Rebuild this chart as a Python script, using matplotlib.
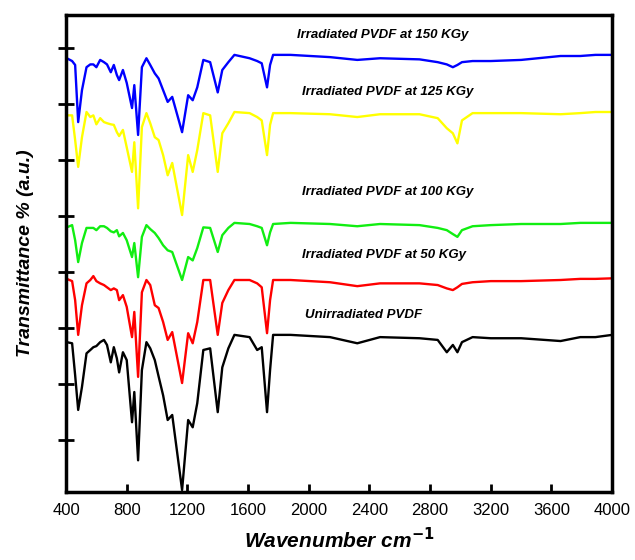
import matplotlib
matplotlib.use('Agg')
import matplotlib.pyplot as plt

# wavenumber grid (cm-1) shared by all spectra
wavenumber = [405, 440, 460, 480, 505, 535, 560, 580, 600, 625,
              650, 670, 695, 715, 735, 750, 775, 800, 835, 850,
              875, 900, 930, 955, 985, 1010, 1040, 1070, 1100, 1165,
              1205, 1235, 1265, 1305, 1350, 1400, 1430, 1470, 1510, 1610,
              1660, 1690, 1725, 1745, 1765, 1880, 2140, 2320, 2470, 2730,
              2850, 2910, 2950, 2980, 3010, 3080, 3200, 3400, 3660, 3790,
              3890, 4000]

# stacked transmittance, arbitrary units
unirradiated = [2.75, 2.73, 2.16, 1.54, 1.95, 2.55, 2.61, 2.66, 2.68, 2.75,
                2.79, 2.70, 2.39, 2.66, 2.46, 2.21, 2.57, 2.43, 1.32, 1.86,
                0.64, 2.25, 2.75, 2.64, 2.43, 2.14, 1.80, 1.36, 1.45, 0.11,
                1.36, 1.23, 1.66, 2.61, 2.64, 1.50, 2.30, 2.64, 2.88, 2.84,
                2.61, 2.66, 1.50, 2.25, 2.88, 2.88, 2.84, 2.73, 2.84, 2.82,
                2.79, 2.57, 2.70, 2.57, 2.75, 2.84, 2.82, 2.82, 2.77, 2.84,
                2.84, 2.88]

kgy50 = [3.88, 3.84, 3.50, 2.88, 3.41, 3.80, 3.86, 3.93, 3.84, 3.80,
         3.77, 3.73, 3.68, 3.71, 3.68, 3.50, 3.59, 3.38, 2.84, 3.29,
         2.13, 3.64, 3.86, 3.77, 3.41, 3.36, 3.11, 2.79, 2.93, 2.02,
         2.91, 2.73, 3.11, 3.86, 3.86, 2.88, 3.45, 3.68, 3.86, 3.86,
         3.80, 3.73, 2.91, 3.50, 3.86, 3.86, 3.82, 3.75, 3.80, 3.80,
         3.77, 3.71, 3.68, 3.73, 3.79, 3.82, 3.84, 3.84, 3.86, 3.88,
         3.88, 3.89]

kgy100 = [4.80, 4.84, 4.57, 4.18, 4.52, 4.79, 4.79, 4.79, 4.75, 4.82,
          4.82, 4.79, 4.73, 4.71, 4.75, 4.64, 4.70, 4.57, 4.27, 4.52,
          3.91, 4.63, 4.84, 4.77, 4.70, 4.61, 4.48, 4.39, 4.36, 3.86,
          4.27, 4.21, 4.43, 4.80, 4.79, 4.36, 4.66, 4.79, 4.88, 4.86,
          4.82, 4.79, 4.48, 4.71, 4.86, 4.88, 4.86, 4.82, 4.86, 4.84,
          4.79, 4.75, 4.68, 4.63, 4.75, 4.82, 4.84, 4.86, 4.86, 4.88,
          4.88, 4.88]

kgy125 = [6.80, 6.80, 6.36, 5.88, 6.41, 6.86, 6.77, 6.80, 6.64, 6.75,
          6.68, 6.66, 6.64, 6.63, 6.50, 6.43, 6.54, 6.23, 5.79, 6.32,
          5.14, 6.59, 6.84, 6.66, 6.41, 6.36, 6.09, 5.73, 5.95, 5.02,
          6.09, 5.79, 6.18, 6.84, 6.80, 5.79, 6.48, 6.66, 6.86, 6.84,
          6.77, 6.71, 6.09, 6.63, 6.84, 6.84, 6.82, 6.77, 6.82, 6.82,
          6.75, 6.57, 6.48, 6.30, 6.71, 6.84, 6.84, 6.84, 6.82, 6.84,
          6.86, 6.86]

kgy150 = [7.82, 7.77, 7.70, 6.68, 7.25, 7.66, 7.71, 7.71, 7.66, 7.79,
          7.75, 7.71, 7.57, 7.70, 7.52, 7.43, 7.61, 7.38, 6.93, 7.34,
          6.45, 7.66, 7.82, 7.70, 7.55, 7.46, 7.25, 7.04, 7.13, 6.50,
          7.16, 7.07, 7.30, 7.79, 7.75, 7.21, 7.61, 7.75, 7.88, 7.82,
          7.77, 7.73, 7.30, 7.70, 7.88, 7.88, 7.84, 7.79, 7.82, 7.80,
          7.75, 7.71, 7.66, 7.70, 7.75, 7.77, 7.77, 7.79, 7.86, 7.86,
          7.88, 7.88]

labels = ['Unirradiated PVDF', 'Irradiated PVDF at 50 KGy',
          'Irradiated PVDF at 100 KGy', 'Irradiated PVDF at 125 KGy',
          'Irradiated PVDF at 150 KGy']
colors = ['black', '#ff0000', '#11ee11', '#ffff00', '#0000ff']
label_x = [1976, 1956, 1956, 1956, 1923]
label_y = [3.23, 4.30, 5.43, 7.21, 8.23]

plt.rcParams['font.family'] = ['Liberation Sans', 'DejaVu Sans']

fig = plt.figure(figsize=(6.35, 5.6), dpi=100)
ax = fig.add_axes([0.104, 0.121, 0.86, 0.852])

for y, c in zip([unirradiated, kgy50, kgy100, kgy125, kgy150], colors):
    ax.plot(wavenumber, y, color=c, lw=1.7, solid_joinstyle='round',
            solid_capstyle='round')

for t, x, y in zip(labels, label_x, label_y):
    ax.text(x, y, t, fontsize=9.5, fontweight='bold', fontstyle='italic',
            va='center', ha='left')

ax.set_xlim(400, 4000)
ax.set_ylim(0.07, 8.59)
ax.set_xticks(range(400, 4001, 400))
ax.set_yticks(range(1, 9))
ax.set_yticklabels([])
ax.tick_params(axis='x', direction='in', length=6, width=2, labelsize=12, pad=8)
ax.tick_params(axis='y', direction='inout', length=11, width=2)

for s in ax.spines.values():
    s.set_linewidth(2.5)

ax.set_xlabel('Wavenumber cm$^{\\mathbf{-1}}$', fontsize=15, fontweight='bold',
              fontstyle='italic', labelpad=6)
ax.set_ylabel('Transmittance % (a.u.)', fontsize=14, fontweight='bold',
              fontstyle='italic', labelpad=14)

fig.savefig('out.png', dpi=100)
